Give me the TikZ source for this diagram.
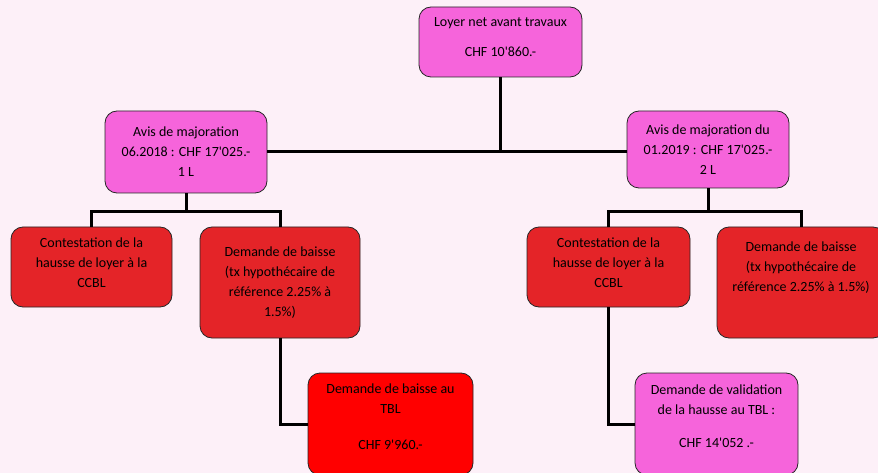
\documentclass[tikz,border=0pt]{standalone}
\usepackage{fontspec}
\setmainfont{Carlito}[Ligatures=TeXOff]
\usetikzlibrary{positioning}
\definecolor{bgpink}{HTML}{FDF0F8}
\definecolor{avispink}{HTML}{F664DB}
\definecolor{demred}{HTML}{E42428}
\definecolor{tblred}{HTML}{FF0000}

\begin{document}
\begin{tikzpicture}[
  x=1pt, y=-1pt,
  box/.style={draw=black!85, rounded corners=12pt, line width=0.8pt, align=center, inner sep=0pt, font=\fontsize{14}{20}\selectfont},
  pinkbox/.style={box, fill=avispink},
  redbox/.style={box, fill=demred},
  link/.style={line width=3pt, black}
]
\useasboundingbox (0,0) rectangle (878,473);
\fill[bgpink] (0,0) rectangle (878,473);

% top of the tree
\node[pinkbox, minimum width=163pt, minimum height=70pt] (loyer) at (500.5,42) {Loyer net avant travaux\\[10pt]CHF 10'860.-\\[-10pt]\mbox{}};

% the two notices
\node[pinkbox, minimum width=162pt, minimum height=82pt] (avisA) at (186,152) {Avis de majoration\\06.2018 : CHF 17'025.-\\1 L};
\node[pinkbox, minimum width=162pt, minimum height=77pt] (avisB) at (708,149.5) {Avis de majoration du\\01.2019 : CHF 17'025.-\\2 L};

% second level
\node[redbox, minimum width=161pt, minimum height=80pt] (contA) at (91.5,267) {Contestation de la\\hausse de loyer à la\\CCBL\\[-11pt]\mbox{}};
\node[redbox, minimum width=160pt, minimum height=111pt] (baisseA) at (280,282.5) {Demande de baisse\\(tx hypothécaire de\\référence 2.25\% à\\1.5\%)};
\node[redbox, minimum width=163pt, minimum height=80pt] (contB) at (608.5,267) {Contestation de la\\hausse de loyer à la\\CCBL\\[-11pt]\mbox{}};
\node[redbox, minimum width=168pt, minimum height=111pt] (baisseB) at (801,282.5) {Demande de baisse\\(tx hypothécaire de\\référence 2.25\% à 1.5\%)\\[12pt]\mbox{}};

% tribunal requests
\node[box, fill=tblred, minimum width=165pt, minimum height=102pt] (tblA) at (390.5,424) {Demande de baisse au\\TBL\\[16pt]CHF 9'960.-\\[-5pt]\mbox{}};
\node[pinkbox, minimum width=163pt, minimum height=102pt] (tblB) at (716.5,424) {Demande de validation\\de la hausse au TBL :\\[13pt]CHF 14'052 .-\\[-5pt]\mbox{}};

\coordinate (busA) at (186,212);
\coordinate (busB) at (708,212);

\draw[link] (avisA.east) -- (avisA.east -| avisB.west);
\draw[link] (loyer.south) -- (loyer.south |- avisA.east);
\draw[link] (avisA.south) -- (busA);
\draw[link] (contA.north) |- (busA) -| (baisseA.north);
\draw[link] (avisB.south) -- (busB);
\draw[link] (contB.north) |- (busB) -| (baisseB.north);
\draw[link] (baisseA.south) |- (tblA.west);
\draw[link] (contB.south) |- (tblB.west);
\end{tikzpicture}
\end{document}
